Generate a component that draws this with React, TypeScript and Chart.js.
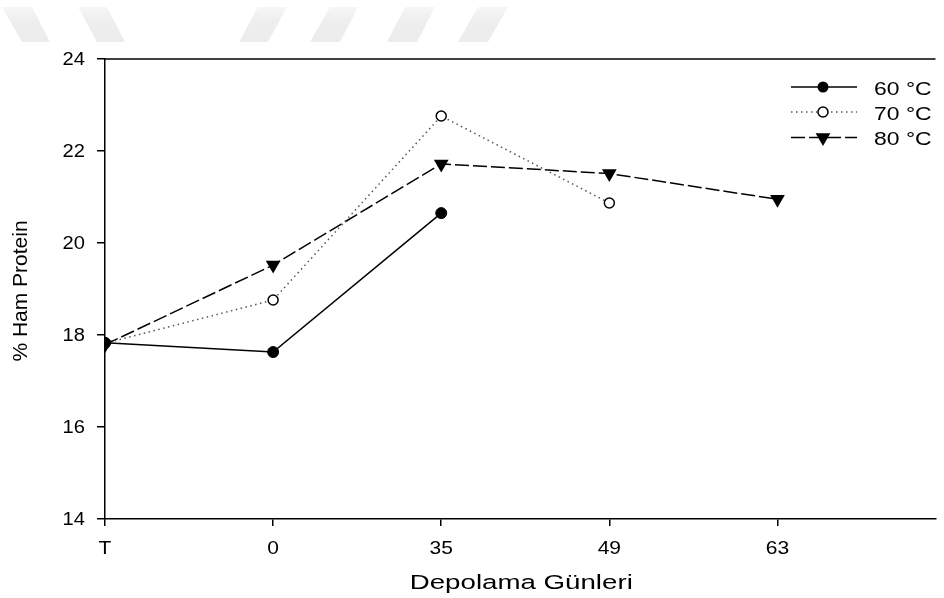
import React, { useEffect, useRef } from "react";
import { Chart, registerables } from "chart.js";

Chart.register(...registerables);

// ---- data ----
const categories: string[] = ["T", "0", "35", "49", "63"];
const seriesNames: string[] = ["60 °C", "70 °C", "80 °C"];
const s60: (number | null)[] = [17.83, 17.63, 20.65, null, null];
const s70: (number | null)[] = [17.82, 18.76, 22.76, 20.87, null];
const s80: (number | null)[] = [17.79, 19.52, 21.72, 21.51, 20.95];
const yTicks: number[] = [14, 16, 18, 20, 22, 24];
const xTitle = "Depolama Günleri";
const yTitle = "% Ham Protein";

const FONT = "'Liberation Sans', Arial, Helvetica, sans-serif";

const toPoints = (arr: (number | null)[]) =>
  arr
    .map((v, i) => (v === null ? null : { x: i, y: v }))
    .filter((p) => p !== null) as { x: number; y: number }[];

function stretchText(
  ctx: CanvasRenderingContext2D,
  text: string,
  x: number,
  y: number,
  size: number,
  sx: number,
  align: CanvasTextAlign
) {
  ctx.save();
  ctx.translate(x, y);
  ctx.scale(sx, 1);
  ctx.font = `${size}px ${FONT}`;
  ctx.textAlign = align;
  ctx.textBaseline = "alphabetic";
  ctx.fillStyle = "#000";
  ctx.fillText(text, 0, 0);
  ctx.restore();
}

function drawMarker(ctx: CanvasRenderingContext2D, kind: string, x: number, y: number) {
  ctx.save();
  ctx.lineWidth = 1.5;
  ctx.strokeStyle = "#000";
  ctx.setLineDash([]);
  if (kind === "filled") {
    ctx.beginPath();
    ctx.arc(x, y, 5.5, 0, Math.PI * 2);
    ctx.fillStyle = "#000";
    ctx.fill();
  } else if (kind === "open") {
    ctx.beginPath();
    ctx.arc(x, y, 5, 0, Math.PI * 2);
    ctx.fillStyle = "#fff";
    ctx.fill();
    ctx.stroke();
  } else {
    const r = 8.5;
    ctx.beginPath();
    ctx.moveTo(x - r * 0.866, y - r / 2);
    ctx.lineTo(x + r * 0.866, y - r / 2);
    ctx.lineTo(x, y + r);
    ctx.closePath();
    ctx.fillStyle = "#000";
    ctx.fill();
  }
  ctx.restore();
}

const decorPlugin = {
  id: "decor",
  beforeDraw(chart: any) {
    const ctx: CanvasRenderingContext2D = chart.ctx;
    ctx.save();
    // faint watermark bands at the top of the page
    const grad = ctx.createLinearGradient(0, 7, 0, 42);
    grad.addColorStop(0, "#f6f6f6");
    grad.addColorStop(0.4, "#eeeeee");
    grad.addColorStop(1, "#ececec");
    ctx.fillStyle = grad;
    const back = [[2, 32, 22, 50], [78, 107, 97, 125]];
    const fwd = [[258, 287, 239, 268], [330, 358, 310, 340], [405, 435, 387, 417], [478, 508, 458, 488]];
    [...back, ...fwd].forEach(([t1, t2, b1, b2]) => {
      ctx.beginPath();
      ctx.moveTo(t1, 7);
      ctx.lineTo(t2, 7);
      ctx.lineTo(b2, 42);
      ctx.lineTo(b1, 42);
      ctx.closePath();
      ctx.fill();
    });
    ctx.restore();
  },
  afterDraw(chart: any) {
    const ctx: CanvasRenderingContext2D = chart.ctx;
    const a = chart.chartArea;
    const xs = chart.scales.x;
    const ys = chart.scales.y;
    ctx.save();
    // top frame line
    ctx.strokeStyle = "#000";
    ctx.lineWidth = 1.5;
    ctx.beginPath();
    ctx.moveTo(a.left, a.top);
    ctx.lineTo(a.right, a.top);
    ctx.stroke();

    // tick labels
    categories.forEach((c, i) => {
      stretchText(ctx, c, xs.getPixelForValue(i), a.bottom + 34.5, 17.5, 1.2, "center");
    });
    yTicks.forEach((v) => {
      stretchText(ctx, String(v), a.left - 20, ys.getPixelForValue(v) + 6.3, 17.5, 1.15, "right");
    });

    // x title
    stretchText(ctx, xTitle, (a.left + a.right) / 2 + 1, a.bottom + 70, 20.5, 1.35, "center");

    // y title
    ctx.save();
    ctx.translate(27, (a.top + a.bottom) / 2 + 2);
    ctx.rotate(-Math.PI / 2);
    ctx.font = `21px ${FONT}`;
    ctx.textAlign = "center";
    ctx.textBaseline = "alphabetic";
    ctx.fillStyle = "#000";
    ctx.fillText(yTitle, 0, 0);
    ctx.restore();

    // legend
    const kinds = ["filled", "open", "tri"];
    const rowY = [87, 112, 137.5];
    const baseY = [95, 120, 145];
    chart.data.datasets.forEach((ds: any, i: number) => {
      const y = rowY[i];
      ctx.save();
      ctx.strokeStyle = ds.borderColor;
      ctx.lineWidth = ds.borderWidth;
      ctx.setLineDash(ds.borderDash || []);
      ctx.beginPath();
      ctx.moveTo(791, y);
      ctx.lineTo(857, y);
      ctx.stroke();
      ctx.restore();
      drawMarker(ctx, kinds[i], 823, y);
      stretchText(ctx, ds.label, 874, baseY[i], 18.5, 1.24, "left");
    });
    ctx.restore();
  },
};

export default function App() {
  const ref = useRef<HTMLCanvasElement | null>(null);

  useEffect(() => {
    if (!ref.current) return;
    const xMax = 4.94;
    const chart = new Chart(ref.current, {
      type: "line",
      data: {
        datasets: [
          {
            label: seriesNames[0],
            data: toPoints(s60),
            borderColor: "#000",
            borderWidth: 1.5,
            pointStyle: "circle",
            pointRadius: 5.5,
            pointBackgroundColor: "#000",
            pointBorderColor: "#000",
            pointBorderWidth: 1,
            tension: 0,
          },
          {
            label: seriesNames[1],
            data: toPoints(s70),
            borderColor: "#555",
            borderWidth: 1.5,
            borderDash: [1.5, 3.5],
            pointStyle: "circle",
            pointRadius: 5,
            pointBackgroundColor: "#fff",
            pointBorderColor: "#000",
            pointBorderWidth: 1.5,
            tension: 0,
          },
          {
            label: seriesNames[2],
            data: toPoints(s80),
            borderColor: "#000",
            borderWidth: 1.5,
            borderDash: [14, 4],
            pointStyle: "triangle",
            pointRotation: 180,
            pointRadius: 8.5,
            pointBackgroundColor: "#000",
            pointBorderColor: "#000",
            pointBorderWidth: 0,
            tension: 0,
          },
        ],
      },
      options: {
        animation: false,
        responsive: false,
        devicePixelRatio: 1,
        layout: { padding: { left: 0, top: 59, right: 0, bottom: 0 } },
        plugins: { legend: { display: false }, tooltip: { enabled: false } },
        scales: {
          x: {
            type: "linear",
            min: 0,
            max: xMax,
            afterBuildTicks: (scale: any) => {
              scale.ticks = categories.map((_, i) => ({ value: i }));
            },
            afterFit: (scale: any) => {
              scale.height = 79;
            },
            ticks: { display: false, autoSkip: false },
            grid: {
              display: true,
              drawOnChartArea: false,
              drawTicks: true,
              tickLength: 7,
              color: "#000",
              lineWidth: 1.5,
            },
            border: { display: true, color: "#000", width: 1.5 },
            title: { display: false },
          },
          y: {
            type: "linear",
            min: yTicks[0],
            max: yTicks[yTicks.length - 1],
            afterBuildTicks: (scale: any) => {
              scale.ticks = yTicks.map((v) => ({ value: v }));
            },
            afterFit: (scale: any) => {
              scale.width = 105;
            },
            ticks: { display: false },
            grid: {
              display: true,
              drawOnChartArea: false,
              drawTicks: true,
              tickLength: 8,
              color: "#000",
              lineWidth: 1.5,
            },
            border: { display: true, color: "#000", width: 1.5 },
            title: { display: false },
          },
        },
      },
      plugins: [decorPlugin],
    } as any);
    return () => chart.destroy();
  }, []);

  return (
    <div style={{ position: "fixed", left: 0, top: 0, width: 944, height: 598, overflow: "hidden", background: "#fff" }}>
      <canvas ref={ref} width={944} height={598} style={{ display: "block" }} />
    </div>
  );
}
